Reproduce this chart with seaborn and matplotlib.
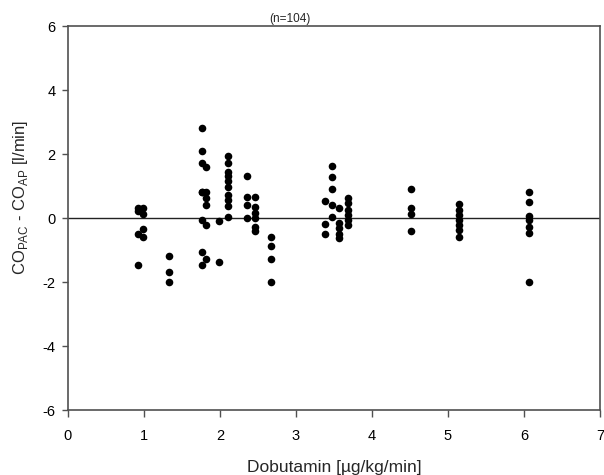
import matplotlib
matplotlib.use("Agg")
import matplotlib.pyplot as plt
import seaborn as sns
import pandas as pd

dose = ([0.92]*4 + [0.99]*4 + [1.33]*3 +
        [1.76]*8 + [1.82]*6 + [1.99]*2 +
        [2.11]*10 + [2.35]*4 + [2.46]*6 + [2.67]*4 +
        [3.38]*3 + [3.48]*5 + [3.57]*5 + [3.68]*6 +
        [4.51]*4 + [5.14]*7 + [6.07]*7)
diff = ([0.30, 0.22, -0.50, -1.48] + [0.32, 0.12, -0.35, -0.60] + [-1.18, -1.69, -1.99] +
        [2.80, 2.10, 1.71, 0.82, -0.06, -1.07, -1.48, 0.80] + [1.58, 0.82, 0.61, 0.40, -0.22, -1.28] + [-0.08, -1.38] +
        [1.95, 1.72, 1.45, 1.30, 1.15, 0.98, 0.72, 0.55, 0.38, 0.02] +
        [1.31, 0.65, 0.41, 0.01] + [0.65, 0.35, 0.15, -0.01, -0.27, -0.40] + [-0.58, -0.87, -1.28, -1.99] +
        [0.53, -0.19, -0.50] + [1.63, 1.29, 0.91, 0.41, 0.02] + [0.32, -0.17, -0.32, -0.50, -0.61] +
        [0.61, 0.46, 0.25, 0.09, -0.06, -0.22] +
        [0.91, 0.30, 0.13, -0.40] + [0.43, 0.25, 0.09, -0.06, -0.22, -0.37, -0.60] +
        [0.80, 0.51, 0.05, -0.05, -0.27, -0.48, -1.99])

df = pd.DataFrame({"dose": dose, "diff": diff})

sns.set_style("white")
plt.rcParams['font.family'] = ['Liberation Sans', 'DejaVu Sans']
plt.rcParams['axes.unicode_minus'] = False
plt.rcParams['mathtext.fontset'] = 'custom'
plt.rcParams['mathtext.rm'] = 'Liberation Sans'

fig = plt.figure(figsize=(6.04, 4.75), dpi=100)
ax = fig.add_axes([68/604, 65/475, 532/604, 384/475])

sns.scatterplot(data=df, x="dose", y="diff", ax=ax, color="black", s=30,
                edgecolor="black", linewidth=0, zorder=3, legend=False)
ax.axhline(0, color="#222222", linewidth=1, zorder=2)

ax.set_xlim(0, 7)
ax.set_ylim(-6, 6)
ax.set_xticks(range(0, 8))
ax.set_yticks(range(-6, 7, 2))
for sp in ax.spines.values():
    sp.set_color("#505050")
    sp.set_linewidth(1.2)
ax.tick_params(axis="both", which="both", direction="out", width=1,
               colors="#505050", labelcolor="black", labelsize=10.5,
               bottom=True, left=True, top=False, right=False)
ax.tick_params(axis="x", length=5, pad=9)
ax.tick_params(axis="y", length=4, pad=5)
ax.set_xlabel("Dobutamin [µg/kg/min]", fontsize=12.5, labelpad=12)
ax.set_ylabel(r"CO$_{\mathrm{PAC}}$ - CO$_{\mathrm{AP}}$ [l/min]", fontsize=12)
ax.yaxis.set_label_coords(-0.072, 0.553)
ax.text(0.417, 1.003, "(n=104)", transform=ax.transAxes, fontsize=8.5,
        ha="center", va="bottom")

fig.savefig("out.png", dpi=100)
